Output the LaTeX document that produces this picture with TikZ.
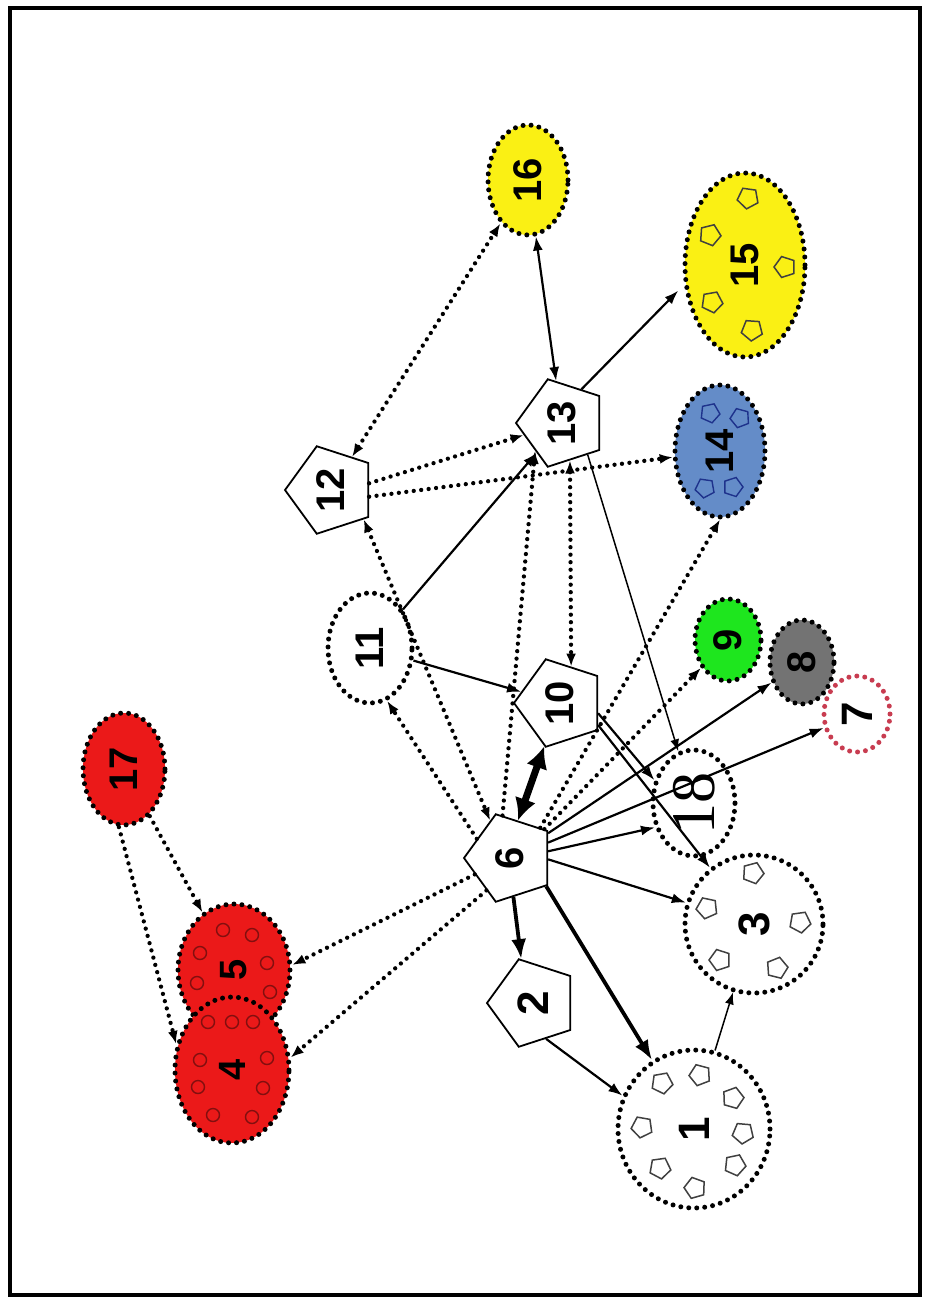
\documentclass[tikz,border=0pt]{standalone}
\usepackage{fontspec}
\usepackage{graphicx}
\setmainfont{Liberation Sans}
\newfontfamily\serifnum{Liberation Serif}
\usetikzlibrary{shapes.geometric, arrows.meta}

\definecolor{nodeyellow}{RGB}{250,240,20}
\definecolor{nodeblue}{RGB}{100,140,200}
\definecolor{nodegreen}{RGB}{30,230,30}
\definecolor{nodegray}{RGB}{115,115,115}
\definecolor{nodered}{RGB}{235,25,25}
\definecolor{rosedot}{RGB}{200,60,80}
\definecolor{darkred}{RGB}{130,15,15}
\definecolor{pentblue}{RGB}{30,50,140}

\tikzset{
  num/.style={font=\fontsize{40pt}{40pt}\selectfont\bfseries},
  bignum/.style={font=\fontsize{44pt}{44pt}\selectfont\bfseries},
  midnum/.style={font=\fontsize{38pt}{38pt}\selectfont\bfseries},
  pentnode/.style={regular polygon, regular polygon sides=5, shape border rotate=90,
    minimum size=92pt, inner sep=0pt, draw=black, line width=1.8pt, fill=white, num},
  dotrim/.style={draw=black, line width=5pt, dash pattern=on 0pt off 8pt, line cap=round},
  blob/.style={ellipse, inner sep=0pt, dotrim, num},
  solidarr/.style={line width=2.2pt, -{Latex[length=14pt,width=10pt]}},
  solidboth/.style={line width=2.2pt, {Latex[length=14pt,width=10pt]}-{Latex[length=14pt,width=10pt]}},
  thinarr/.style={line width=1.5pt, -{Latex[length=12pt,width=9pt]}},
  heavyarr/.style={line width=3.8pt, -{Latex[length=20pt,width=15pt]}},
  hugeboth/.style={line width=7pt, {Latex[length=22pt,width=22pt]}-{Latex[length=22pt,width=22pt]}},
  dotarr/.style={line width=4.3pt, dash pattern=on 0pt off 7.5pt, line cap=round,
    -{Latex[length=13pt,width=10pt]}},
  dotboth/.style={line width=4.3pt, dash pattern=on 0pt off 7.5pt, line cap=round,
    {Latex[length=13pt,width=10pt]}-{Latex[length=13pt,width=10pt]}},
  minipent/.pic={\draw[pic actions] (90:11) -- (162:11) -- (234:11) -- (306:11) -- (18:11) -- cycle;},
  tinypent/.pic={\draw[pic actions] (90:10) -- (162:10) -- (234:10) -- (306:10) -- (18:10) -- cycle;},
}

\begin{document}
\begin{tikzpicture}[x=1pt, y=-1pt]
\useasboundingbox (0,0) rectangle (929,1300);
\fill[white] (0,0) rectangle (929,1300);
\draw[line width=3.5pt] (10,8) rectangle (920,1295);

% coloured clusters
\node[blob, fill=nodeyellow, minimum width=80pt, minimum height=110pt] (n16) at (528,180) {\rotatebox{90}{16}};
\node[blob, fill=nodeyellow, minimum width=120pt, minimum height=184pt] (n15) at (745,265) {\rotatebox{90}{15}};
\node[blob, fill=nodeblue, minimum width=90pt, minimum height=132pt] (n14) at (720,451) {\rotatebox{90}{14}};
\node[blob, fill=nodegreen, minimum width=66pt, minimum height=82pt] (n9) at (728,640) {\rotatebox{90}{9}};
\node[blob, fill=nodegray, minimum width=64pt, minimum height=84pt] (n8) at (802,662) {\rotatebox{90}{8}};
\node[blob, draw=rosedot, fill=white, bignum, minimum width=66pt, minimum height=76pt] (n7) at (857,714) {\rotatebox{90}{7}};
\node[blob, fill=nodered, minimum width=82pt, minimum height=112pt] (n17) at (124,769) {\rotatebox{90}{17}};
\node[blob, fill=nodered, midnum, minimum width=112pt, minimum height=132pt] (n5) at (234,970) {\rotatebox{90}{5}};
\node[blob, fill=nodered, midnum, minimum width=114pt, minimum height=146pt] (n4) at (232,1070) {\rotatebox{90}{4}};

% white clusters
\node[blob, fill=white, minimum width=84pt, minimum height=110pt] (n11) at (370,648) {\rotatebox{90}{11}};
\node[blob, minimum width=82pt, minimum height=106pt, font=\serifnum\fontsize{62pt}{62pt}\selectfont] (n18) at (694,803) {\rotatebox{90}{18}};
\node[blob, fill=white, bignum, minimum width=138pt, minimum height=138pt] (n3) at (754,924) {\rotatebox{90}{3}};
\node[blob, fill=white, bignum, minimum width=152pt, minimum height=158pt] (n1) at (694,1129) {\rotatebox{90}{1}};

% pentagon nodes
\node[pentnode] (n12) at (331,490) {\rotatebox{90}{12}};
\node[pentnode] (n13) at (562,423) {\rotatebox{90}{13}};
\node[pentnode] (n10) at (560,703) {\rotatebox{90}{10}};
\node[pentnode] (n6) at (510,858) {\rotatebox{90}{6}};
\node[pentnode, bignum] (n2) at (533,1003) {\rotatebox{90}{2}};

% small members inside the clusters
\foreach \px/\py/\pr in {662/1083/10, 700/1075/-15, 733/1098/20, 743/1133/-5, 735/1165/12,
                         695/1188/-20, 660/1168/8, 642/1127/-10,
                         753/873/15, 707/908/-12, 800/922/8, 720/960/-18, 777/968/22,
                         748/198/-8, 710/235/14, 785/267/-18, 712/302/10, 752/330/-4}
  \pic[rotate=\pr, draw=black!75, line width=1.5pt] at (\px,\py) {minipent};
\foreach \px/\py/\pr in {710/413/12, 740/418/-15, 705/488/-8, 733/487/18}
  \pic[rotate=\pr, draw=pentblue, line width=1.4pt] at (\px,\py) {tinypent};
\foreach \cx/\cy in {223/930, 252/935, 200/953, 267/963, 197/983, 270/992,
                     208/1022, 232/1022, 253/1022,
                     200/1060, 267/1058, 198/1087, 263/1088, 213/1115, 252/1117}
  \draw[darkred, line width=1.4pt] (\cx,\cy) circle[radius=6.5];

% connectors around 12, 13, 16
\draw[dotboth] (n12) -- (n16);
\draw[solidboth] (n16) -- (n13);
\draw[solidarr, shorten >=8pt] (n13.60) -- (n15.198);
\draw[dotarr] (n12.10) -- (n13);
\draw[dotarr] (n12.-10) -- (n14);
\draw[dotboth] (n13.-78) -- (n10.73);
\draw[thinarr] (n13.-51) -- (n18);

% connectors from 11
\draw[solidarr] (n11) -- (n13);
\draw[solidarr] (n11) -- (n10);

% connectors from 10
\draw[solidarr] (n10.-15) -- (n18.150);
\draw[solidarr] (n10.-30) -- (n3);

% connectors from 6
\draw[dotboth] (n12.-42) -- (n6.118);
\draw[dotarr] (n6.150) -- (n11.-72);
\draw[dotarr] (n6.100) -- (n13.226);
\draw[hugeboth] (n6.78) -- (n10.250);
\draw[dotarr] (n6.45) -- (n14.south);
\draw[dotarr] (n6.40) -- (n9);
\draw[solidarr] (n6.33) -- (n8);
\draw[solidarr] (n6.22) -- (n7);
\draw[solidarr] (n6.10) -- (n18.212);
\draw[solidarr] (n6.-2) -- (n3);
\draw[heavyarr] (n6.-38) -- (n1);
\draw[heavyarr] (n6.-85) -- (n2.105);
\draw[dotarr] (n6.205) -- (n5.5);
\draw[dotarr] (n6.234) -- (n4.12);

% lower connectors
\draw[solidarr] (n2.-70) -- (n1.155);
\draw[thinarr] (n1.75) -- (n3);

% connectors from 17
\draw[dotarr] (n17) -- (n5);
\draw[dotarr] (n17.265) -- (n4.155);
\end{tikzpicture}
\end{document}
